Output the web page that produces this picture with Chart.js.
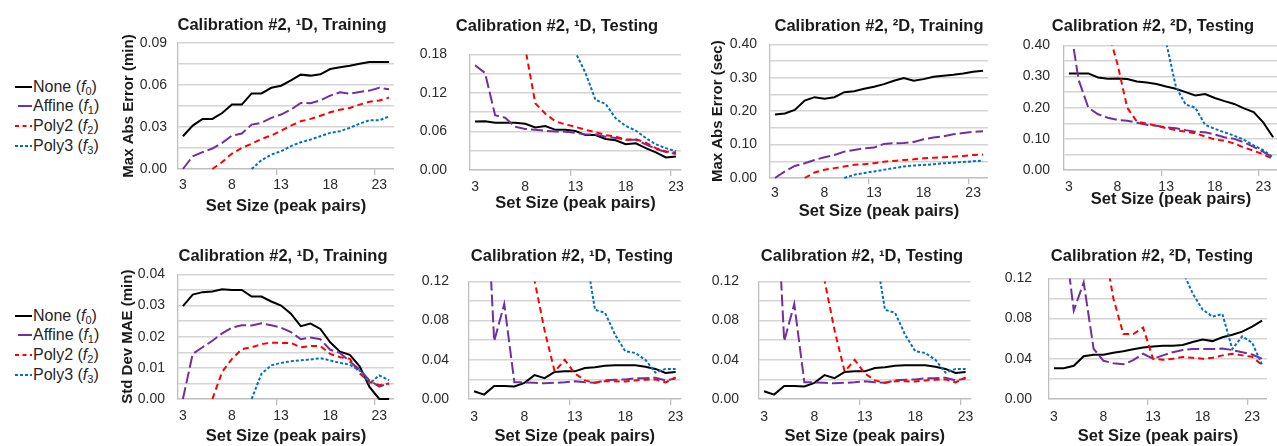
<!DOCTYPE html>
<html>
<head>
<meta charset="utf-8">
<script src="https://cdn.jsdelivr.net/npm/chart.js@4.4.1/dist/chart.umd.min.js"></script>
<style>
  html, body { margin: 0; padding: 0; background: #fff; overflow: hidden; }
  body { width: 1277px; height: 446px; position: relative; font-family: "Liberation Sans", Arial, sans-serif; }
  .panel { position: absolute; }
  .ttl { position: absolute; width: 300px; text-align: center; font-weight: bold; font-size: 16.5px; line-height: 20px; color: #1a1a1a; white-space: nowrap; }
  .legend { position: absolute; left: 15px; font-size: 16px; color: #262626; }
  .legend .item { height: 19.6px; display: flex; align-items: center; white-space: nowrap; }
  .legend svg { margin-right: 1px; }
  .legend sub { font-size: 11px; vertical-align: -3px; line-height: 0; }
</style>
</head>
<body>
<div class="legend" id="legendTop" style="top:77px"></div>
<div class="legend" id="legendBottom" style="top:306px"></div>
<script>
// Set sizes (peak pairs)
const setSizes24 = ['3', '4', '5', '6', '7', '8', '9', '10', '11', '12', '13', '14', '15', '16', '17', '18', '19', '20', '21', '22', '23', '24'];
const setSizes23 = ['3', '4', '5', '6', '7', '8', '9', '10', '11', '12', '13', '14', '15', '16', '17', '18', '19', '20', '21', '22', '23'];

const methodNames = ['None', 'Affine', 'Poly2', 'Poly3'];
const methodColors = ['#000000', '#7030a0', '#ff0000', '#0070c0'];
const methodDashes = [[], [12, 4], [6, 4], [3, 2]];
const legendDashes = ['', '14 3', '4 3.5', '3 2']; // short sample lines in the side legends
const legendDashOffsets = [0, -3, 0, 0];

// Max abs error, 1D, training (min)
const train1dMaxNone = [0.0234, 0.031, 0.0358, 0.0358, 0.040, 0.046, 0.046, 0.054, 0.054, 0.058, 0.0595, 0.0633, 0.0674, 0.0667, 0.0676, 0.0714, 0.0726, 0.0738, 0.0752, 0.0764, 0.0765, 0.0765];
const train1dMaxAffine = [0, 0.0091, 0.012, 0.0146, 0.0187, 0.0239, 0.0253, 0.0317, 0.033, 0.0365, 0.0389, 0.0424, 0.0472, 0.047, 0.049, 0.0524, 0.0548, 0.0538, 0.055, 0.056, 0.058, 0.057];
const train1dMaxPoly2 = [null, null, null, 0, 0.005, 0.011, 0.0151, 0.018, 0.0215, 0.0239, 0.0274, 0.031, 0.0341, 0.0358, 0.038, 0.0405, 0.0424, 0.0436, 0.046, 0.048, 0.049, 0.051];
const train1dMaxPoly3 = [null, null, null, null, null, null, null, 0, 0.0063, 0.0103, 0.0127, 0.0163, 0.0191, 0.021, 0.0234, 0.0258, 0.027, 0.0294, 0.0324, 0.0348, 0.0348, 0.0375];

// Max abs error, 1D, testing (min)
const test1dMaxNone = [0.0757, 0.076, 0.0734, 0.0734, 0.0734, 0.072, 0.0663, 0.0686, 0.0625, 0.0625, 0.0606, 0.0544, 0.0544, 0.0483, 0.0464, 0.0402, 0.0416, 0.034, 0.0274, 0.0195, 0.021];
const test1dMaxAffine = [0.163, 0.151, 0.0852, 0.0814, 0.0672, 0.064, 0.0625, 0.061, 0.060, 0.0597, 0.0578, 0.0554, 0.0554, 0.052, 0.0497, 0.0473, 0.047, 0.040, 0.033, 0.028, 0.025];
const test1dMaxPoly2 = [null, null, null, 0.6, 0.35, 0.19, 0.104, 0.0876, 0.0757, 0.071, 0.0672, 0.0625, 0.059, 0.0544, 0.052, 0.047, 0.048, 0.0426, 0.034, 0.029, 0.027];
const test1dMaxPoly3 = [null, null, null, null, null, null, null, 0.9, 0.5, 0.28, 0.183, 0.151, 0.109, 0.103, 0.0805, 0.0686, 0.0615, 0.0497, 0.040, 0.034, 0.029];

// Max abs error, 2D, training (sec)
const train2dMaxNone = [0.190, 0.193, 0.204, 0.232, 0.242, 0.237, 0.242, 0.257, 0.26, 0.267, 0.273, 0.281, 0.291, 0.299, 0.291, 0.296, 0.303, 0.306, 0.309, 0.313, 0.318, 0.321];
const train2dMaxAffine = [0, 0.0196, 0.036, 0.044, 0.054, 0.062, 0.069, 0.079, 0.084, 0.089, 0.091, 0.102, 0.104, 0.105, 0.108, 0.116, 0.121, 0.125, 0.131, 0.135, 0.138, 0.14];
const train2dMaxPoly2 = [null, null, null, 0, 0.0166, 0.0246, 0.0296, 0.0345, 0.0394, 0.0414, 0.0444, 0.049, 0.051, 0.054, 0.056, 0.059, 0.061, 0.062, 0.064, 0.066, 0.069, 0.07];
const train2dMaxPoly3 = [null, null, null, null, null, null, null, 0, 0.0099, 0.0148, 0.0196, 0.0246, 0.0296, 0.0345, 0.0374, 0.039, 0.041, 0.044, 0.046, 0.048, 0.050, 0.052];

// Max abs error, 2D, testing (sec)
const test2dMaxNone = [0.31, 0.31, 0.31, 0.297, 0.293, 0.294, 0.292, 0.284, 0.281, 0.276, 0.268, 0.261, 0.25, 0.239, 0.244, 0.231, 0.221, 0.212, 0.198, 0.186, 0.152, 0.105];
const test2dMaxAffine = [0.49, 0.29, 0.2, 0.179, 0.168, 0.161, 0.158, 0.152, 0.145, 0.142, 0.137, 0.134, 0.128, 0.123, 0.121, 0.114, 0.105, 0.10, 0.089, 0.074, 0.058, 0.04];
const test2dMaxPoly2 = [null, null, null, 0.8, 0.449, 0.34, 0.2, 0.155, 0.149, 0.142, 0.134, 0.128, 0.123, 0.118, 0.108, 0.098, 0.094, 0.085, 0.072, 0.062, 0.05, 0.035];
const test2dMaxPoly3 = [null, null, null, null, null, null, null, 1.2, 0.9, 0.7, 0.41, 0.268, 0.21, 0.2, 0.145, 0.132, 0.121, 0.11, 0.097, 0.079, 0.063, 0.04];

// Std dev of MAE, 1D, training (min)
const train1dSdNone = [0.0298, 0.0335, 0.0343, 0.0345, 0.0352, 0.035, 0.035, 0.0329, 0.0329, 0.0313, 0.030, 0.0274, 0.0234, 0.0242, 0.0225, 0.0182, 0.0152, 0.0142, 0.0105, 0.0039, 0, 0];
const train1dSdAffine = [0, 0.0145, 0.0166, 0.0187, 0.0211, 0.0229, 0.0237, 0.0236, 0.0243, 0.0237, 0.0229, 0.0215, 0.0192, 0.0197, 0.0192, 0.0158, 0.0148, 0.012, 0.0095, 0.006, 0.004, 0.005];
const train1dSdPoly2 = [null, null, null, 0, 0.0087, 0.0129, 0.016, 0.0166, 0.0176, 0.0181, 0.018, 0.018, 0.0166, 0.017, 0.017, 0.0145, 0.0134, 0.0129, 0.0082, 0.0055, 0.0044, 0.005];
const train1dSdPoly3 = [null, null, null, null, null, null, null, 0, 0.0081, 0.0108, 0.0116, 0.0121, 0.0124, 0.0127, 0.0131, 0.0124, 0.0116, 0.011, 0.0092, 0.005, 0.0076, 0.006];

// Std dev of MAE, 1D, testing
const test1dSdNone = [0.0079, 0.0045, 0.0133, 0.0133, 0.0127, 0.0165, 0.0244, 0.0212, 0.0276, 0.0282, 0.0282, 0.0317, 0.0323, 0.0339, 0.0345, 0.0345, 0.0345, 0.033, 0.0307, 0.0266, 0.0276];
const test1dSdAffine = [0.4, 0.262, 0.059, 0.097, 0.017, 0.017, 0.0165, 0.016, 0.0165, 0.017, 0.018, 0.017, 0.0165, 0.019, 0.0197, 0.020, 0.0212, 0.0212, 0.0218, 0.019, 0.021];
const test1dSdPoly2 = [null, null, null, 0.5, 0.4, 0.3, 0.121, 0.070, 0.028, 0.040, 0.026, 0.019, 0.0165, 0.018, 0.018, 0.0178, 0.019, 0.0197, 0.020, 0.017, 0.022];
const test1dSdPoly3 = [null, null, null, null, null, null, null, 0.5, 0.42, 0.35, 0.28, 0.154, 0.091, 0.088, 0.0655, 0.0487, 0.047, 0.040, 0.0269, 0.0307, 0.0307];

// Std dev of MAE, 2D, testing
const test2dSdNone = [0.0307, 0.0307, 0.033, 0.0425, 0.044, 0.044, 0.046, 0.0475, 0.0494, 0.0513, 0.0522, 0.0529, 0.0529, 0.0538, 0.0567, 0.0592, 0.0576, 0.0614, 0.064, 0.067, 0.072, 0.078];
const test2dSdAffine = [0.3, 0.168, 0.088, 0.116, 0.05, 0.038, 0.0355, 0.0345, 0.0386, 0.045, 0.040, 0.0434, 0.0466, 0.0487, 0.0497, 0.0497, 0.0497, 0.0503, 0.0487, 0.0466, 0.0443, 0.040];
const test2dSdPoly2 = [null, null, null, 0.4, 0.25, 0.155, 0.10, 0.0646, 0.0646, 0.071, 0.040, 0.039, 0.040, 0.0418, 0.041, 0.040, 0.041, 0.0434, 0.045, 0.0434, 0.042, 0.034];
const test2dSdPoly3 = [null, null, null, null, null, null, null, 0.6, 0.5, 0.4, 0.32, 0.25, 0.17, 0.127, 0.105, 0.089, 0.082, 0.0845, 0.0497, 0.0624, 0.056, 0.034];

const panels = [
    { title: 'Calibration #2, ¹D, Training', labels: setSizes24, series: [train1dMaxNone, train1dMaxAffine, train1dMaxPoly2, train1dMaxPoly3], yMax: 0.09, yStep: 0.015, yTitle: 'Max Abs Error (min)' },
    { title: 'Calibration #2, ¹D, Testing', labels: setSizes23, series: [test1dMaxNone, test1dMaxAffine, test1dMaxPoly2, test1dMaxPoly3], yMax: 0.18, yStep: 0.03 },
    { title: 'Calibration #2, ²D, Training', labels: setSizes24, series: [train2dMaxNone, train2dMaxAffine, train2dMaxPoly2, train2dMaxPoly3], yMax: 0.4, yStep: 0.05, yTitle: 'Max Abs Error (sec)' },
    { title: 'Calibration #2, ²D, Testing', labels: setSizes24, series: [test2dMaxNone, test2dMaxAffine, test2dMaxPoly2, test2dMaxPoly3], yMax: 0.4, yStep: 0.05 },
    { title: 'Calibration #2, ¹D, Training', labels: setSizes24, series: [train1dSdNone, train1dSdAffine, train1dSdPoly2, train1dSdPoly3], yMax: 0.04, yStep: 0.005, yTitle: 'Std Dev MAE (min)' },
    { title: 'Calibration #2, ¹D, Testing', labels: setSizes23, series: [test1dSdNone, test1dSdAffine, test1dSdPoly2, test1dSdPoly3], yMax: 0.12, yStep: 0.02 },
    { title: 'Calibration #2, ¹D, Testing', labels: setSizes23, series: [test1dSdNone, test1dSdAffine, test1dSdPoly2, test1dSdPoly3], yMax: 0.12, yStep: 0.02 },
    { title: 'Calibration #2, ²D, Testing', labels: setSizes24, series: [test2dSdNone, test2dSdAffine, test2dSdPoly2, test2dSdPoly3], yMax: 0.12, yStep: 0.02 }
];

// Where each panel sits on the page: plot area [left, right, top, bottom], title centre, text offsets
const frames = [
    { plot: [178, 394, 43, 169], title: [282, 24], yTitleX: 129, tickPad: 11, xLabel: 16.5, xTitle: 37 },
    { plot: [470, 686, 43, 170], title: [557, 25], tickPad: 23, xLabel: 16.7, xTitle: 33 },
    { plot: [770, 988, 43, 178], title: [879, 25], yTitleX: 718, tickPad: 13, xLabel: 15, xTitle: 33 },
    { plot: [1064, 1278, 43, 170], title: [1153, 25], tickPad: 14, xLabel: 17, xTitle: 29 },
    { plot: [178, 394, 273, 399], title: [283, 255], yTitleX: 128, tickPad: 13, xLabel: 17, xTitle: 37 },
    { plot: [469, 687, 273, 399], title: [572, 255], tickPad: 20, xLabel: 18, xTitle: 37 },
    { plot: [759, 977, 273, 399], title: [862, 255], tickPad: 20, xLabel: 18, xTitle: 37 },
    { plot: [1049, 1267, 273, 399], title: [1152, 255], tickPad: 17, xLabel: 18, xTitle: 37.5 }
];

Chart.defaults.font.family = '"Liberation Sans", Arial, sans-serif';
Chart.defaults.color = '#2b2b2b';

function buildLegend(id) {
    const el = document.getElementById(id);
    methodNames.forEach((name, k) => {
        const item = document.createElement('div');
        item.className = 'item';
        item.innerHTML = '<svg width="17" height="4"><line x1="0" y1="2" x2="17" y2="2" stroke="' + methodColors[k] +
            '" stroke-width="2" stroke-dasharray="' + legendDashes[k] + '" stroke-dashoffset="' + legendDashOffsets[k] + '"/></svg>' +
            '<span>' + name + ' (<i>f</i><sub>' + k + '</sub>)</span>';
        el.appendChild(item);
    });
}
buildLegend('legendTop');
buildLegend('legendBottom');

function drawPanel(panel, frame) {
    const [left, right, top, bottom] = frame.plot;
    const padTop = 20;
    const boxLeft = panel.yTitle ? frame.yTitleX - 20 : left - 60;
    const yWidth = left - boxLeft;
    const xHeight = Math.ceil(frame.xTitle + 10);
    const width = right - boxLeft;
    const height = padTop + (bottom - top) + xHeight;

    const box = document.createElement('div');
    box.className = 'panel';
    box.style.left = boxLeft + 'px';
    box.style.top = (top - padTop) + 'px';
    box.style.width = width + 'px';
    box.style.height = height + 'px';
    const canvas = document.createElement('canvas');
    canvas.width = width;
    canvas.height = height;
    box.appendChild(canvas);
    document.body.appendChild(box);

    const ttl = document.createElement('div');
    ttl.className = 'ttl';
    ttl.textContent = panel.title;
    ttl.style.left = (frame.title[0] - 150) + 'px';
    ttl.style.top = (frame.title[1] - 10) + 'px';
    document.body.appendChild(ttl);

    const datasets = panel.series.map((values, k) => ({
        label: methodNames[k],
        data: values,
        borderColor: methodColors[k],
        borderWidth: 2,
        borderDash: methodDashes[k],
        pointRadius: 0,
        fill: false,
        tension: 0,
        order: 4 - k,
        clip: { left: 6, top: 0, right: 6, bottom: 3 }
    }));

    new Chart(canvas.getContext('2d'), {
        type: 'line',
        data: { labels: panel.labels, datasets: datasets },
        options: {
            responsive: false,
            animation: false,
            devicePixelRatio: 1,
            events: [],
            layout: { padding: { top: padTop, left: 0, right: 0, bottom: 0 } },
            plugins: {
                legend: { display: false },
                tooltip: { enabled: false },
                title: { display: false }
            },
            scales: {
                x: {
                    type: 'category',
                    offset: true,
                    afterFit: (scale) => { scale.height = xHeight; },
                    grid: {
                        display: true,
                        drawOnChartArea: false,
                        drawTicks: true,
                        tickLength: 6,
                        offset: true,
                        lineWidth: 1.3,
                        color: (ctx) => (ctx.index === 10 || ctx.index === 20) ? '#bfbfbf' : 'rgba(0,0,0,0)'
                    },
                    border: { display: true, color: '#bfbfbf', width: 1.3 },
                    ticks: {
                        autoSkip: false,
                        maxRotation: 0,
                        padding: frame.xLabel - 6 - 8.4,
                        font: { size: 14 },
                        callback: function (value, index) {
                            return index % 5 === 0 ? this.getLabelForValue(value) : '';
                        }
                    },
                    title: {
                        display: true,
                        text: 'Set Size (peak pairs)',
                        font: { size: 16.5, weight: 'bold' },
                        color: '#1a1a1a',
                        padding: { top: 0, bottom: xHeight - frame.xTitle - 9.9 }
                    }
                },
                y: {
                    min: 0,
                    max: panel.yMax,
                    afterFit: (scale) => { scale.width = yWidth; },
                    grid: { color: '#d4d4d4', lineWidth: 1.4, drawTicks: false },
                    border: { display: true, color: '#bfbfbf', width: 1.3 },
                    ticks: {
                        stepSize: panel.yStep,
                        autoSkip: false,
                        padding: frame.tickPad,
                        font: { size: 14 },
                        callback: (value, index) => index % 2 === 0 ? value.toFixed(2) : ''
                    },
                    title: {
                        display: !!panel.yTitle,
                        text: panel.yTitle || '',
                        font: { size: 15, weight: 'bold' },
                        color: '#1a1a1a',
                        padding: { top: panel.yTitle ? frame.yTitleX - boxLeft - 9 : 0, bottom: 0 }
                    }
                }
            }
        }
    });
}

panels.forEach((panel, i) => drawPanel(panel, frames[i]));
</script>
</body>
</html>
